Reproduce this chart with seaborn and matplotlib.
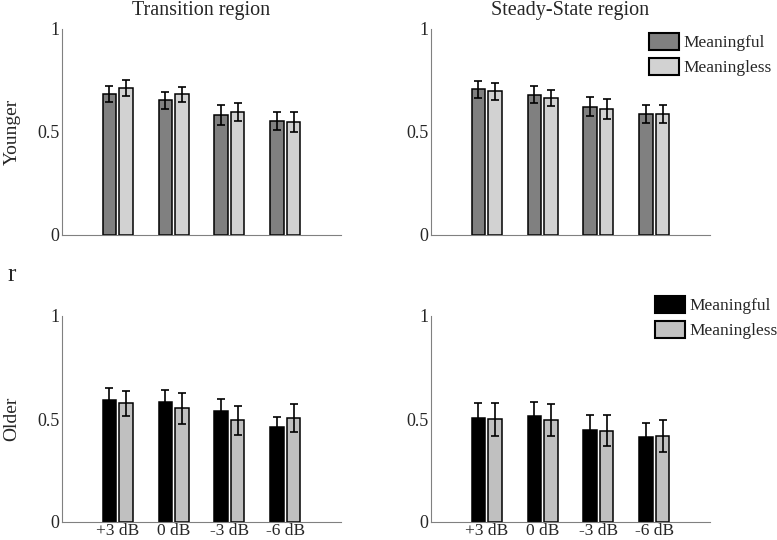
import numpy as np
import pandas as pd
import seaborn as sns
import matplotlib.pyplot as plt
from matplotlib.patches import Patch

# condition labels
snr_labels = ["+3 dB", "0 dB", "-3 dB", "-6 dB"]
types = ["Meaningful", "Meaningless"]
regions = ["Transition region", "Steady-State region"]
groups = ["Younger", "Older"]

# Younger, transition region
yt_mf = [0.684, 0.655, 0.583, 0.555]
yt_ml = [0.712, 0.683, 0.597, 0.548]
yt_mf_err = [0.037, 0.041, 0.048, 0.043]
yt_ml_err = [0.039, 0.037, 0.042, 0.048]

# Younger, steady-state region
ys_mf = [0.707, 0.681, 0.623, 0.589]
ys_ml = [0.697, 0.663, 0.613, 0.589]
ys_mf_err = [0.040, 0.041, 0.045, 0.044]
ys_ml_err = [0.043, 0.039, 0.048, 0.043]

# Older, transition region
ot_mf = [0.592, 0.584, 0.540, 0.460]
ot_ml = [0.576, 0.553, 0.494, 0.503]
ot_mf_err = [0.057, 0.055, 0.057, 0.051]
ot_ml_err = [0.062, 0.075, 0.071, 0.068]

# Older, steady-state region
os_mf = [0.503, 0.513, 0.447, 0.411]
os_ml = [0.498, 0.494, 0.443, 0.417]
os_mf_err = [0.076, 0.071, 0.071, 0.070]
os_ml_err = [0.082, 0.078, 0.076, 0.077]

younger_colors = ["#808080", "#d2d2d2"]
older_colors = ["#000000", "#c0c0c0"]


def make_table(mf, ml):
    return pd.DataFrame({
        "snr": snr_labels * 2,
        "type": [types[0]] * 4 + [types[1]] * 4,
        "r": list(mf) + list(ml),
    })


sns.set_style("white")
plt.rcParams["font.family"] = ["Liberation Serif", "DejaVu Serif"]

fig = plt.figure(figsize=(7.77, 5.40), dpi=100)

panels = [
    (0, 0, yt_mf, yt_ml, yt_mf_err, yt_ml_err),
    (0, 1, ys_mf, ys_ml, ys_mf_err, ys_ml_err),
    (1, 0, ot_mf, ot_ml, ot_mf_err, ot_ml_err),
    (1, 1, os_mf, os_ml, os_mf_err, os_ml_err),
]

lefts = [62 / 777, 431 / 777]
bottoms = [1 - 235 / 540, 1 - 522 / 540]
w = 279 / 777
h = 206 / 540

for row, col, mf, ml, mf_err, ml_err in panels:
    ax = fig.add_axes([lefts[col], bottoms[row], w, h])
    colors = younger_colors if row == 0 else older_colors
    df = make_table(mf, ml)
    sns.barplot(data=df, x="snr", y="r", hue="type", palette=colors,
                width=0.6, gap=0.2, edgecolor="black", linewidth=1.1,
                errorbar=None, legend=False, ax=ax, zorder=2)

    # error bars on top of the bars
    for cont, errs in zip(ax.containers, [mf_err, ml_err]):
        xs = [b.get_x() + b.get_width() / 2 for b in cont]
        hs = [b.get_height() for b in cont]
        ax.errorbar(xs, hs, yerr=errs, fmt="none", ecolor="black",
                    elinewidth=1.2, capsize=2.8, capthick=1.2, zorder=3)

    ax.set_xlim(-1, 4)
    ax.set_ylim(0, 1)
    ax.set_yticks([0, 0.5, 1])
    ax.set_yticklabels(["0", "0.5", "1"])
    ax.set_xlabel("")
    ax.set_ylabel("")
    sns.despine(ax=ax)
    for s in ["left", "bottom"]:
        ax.spines[s].set_color("#808080")
        ax.spines[s].set_linewidth(0.8)
    ax.tick_params(axis="y", direction="in", length=2, width=0.6,
                   color="#808080", labelsize=13, pad=2)
    ax.tick_params(axis="x", length=0, labelsize=12.5, pad=0.5)
    if row == 0:
        ax.set_xticklabels([])
        ax.set_title(regions[col], fontsize=14.5, pad=10)

    if col == 1:
        handles = [Patch(facecolor=c, edgecolor="black", linewidth=1.5) for c in colors]
        anchor = (649 / 777, 1 - 33 / 540) if row == 0 else (655 / 777, 1 - 296 / 540)
        fig.legend(handles, types, loc="upper left", bbox_to_anchor=anchor,
                   frameon=False, borderpad=0, borderaxespad=0,
                   handlelength=1.75, handleheight=1.1, handletextpad=0.25,
                   labelspacing=0.4, fontsize=12.5)

# row labels and the shared y label
fig.text(12 / 777, 1 - 132 / 540, groups[0], fontsize=14, rotation=90,
         ha="center", va="center")
fig.text(12 / 777, 1 - 419 / 540, groups[1], fontsize=14, rotation=90,
         ha="center", va="center")
fig.text(12 / 777, 1 - 275 / 540, "r", fontsize=18, ha="center", va="center")

fig.savefig("out.png", dpi=100)
